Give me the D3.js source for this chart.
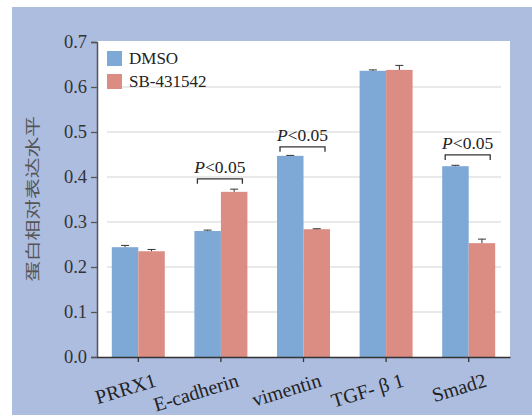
<!DOCTYPE html>
<html>
<head>
<meta charset="utf-8">
<script src="https://cdn.jsdelivr.net/npm/d3@7"></script>
<style>
  body { margin: 0; background: #fff; }
  svg { display: block; }
</style>
</head>
<body>
<svg id="chart" width="532" height="415"></svg>
<script>
// data
const categories = ["PRRX1", "E-cadherin", "vimentin", "TGF- β 1", "Smad2"];
const seriesNames = ["DMSO", "SB-431542"];
const dmsoValues = [0.244, 0.280, 0.447, 0.636, 0.424];
const dmsoErrors = [0.004, 0.002, 0.001, 0.002, 0.002];
const sbValues = [0.235, 0.367, 0.284, 0.638, 0.253];
const sbErrors = [0.004, 0.006, 0.001, 0.010, 0.009];
const yTicks = [0.0, 0.1, 0.2, 0.3, 0.4, 0.5, 0.6, 0.7];
// significance brackets: category and bracket height
const sigMarks = [
  { cat: "E-cadherin", y: 0.396, label: "P<0.05" },
  { cat: "vimentin", y: 0.467, label: "P<0.05" },
  { cat: "Smad2", y: 0.449, label: "P<0.05" }
];

const colors = { "DMSO": "#7ea8d5", "SB-431542": "#db8d83" };
const SERIF = "Liberation Serif";

const svg = d3.select("#chart");

// outer panel
svg.append("rect").attr("x", 12).attr("y", 7).attr("width", 520).attr("height", 408)
  .attr("fill", "#adbde0");

const plotL = 97, plotR = 510, plotT = 42, plotB = 357;

// white plotting area
svg.append("rect").attr("x", plotL).attr("y", plotT - 1).attr("width", plotR - plotL).attr("height", plotB - plotT + 1)
  .attr("fill", "#fff");

const y = d3.scaleLinear().domain([0, 0.7]).range([plotB, plotT]);
const x0 = d3.scaleBand().domain(categories).range([plotL, plotR]);
const groupWidth = 53;
const x1 = d3.scaleBand().domain(seriesNames).range([0, groupWidth]);
const groupStart = c => x0(c) + x0.bandwidth() / 2 - groupWidth / 2;

// grid
svg.append("g").selectAll("line")
  .data(yTicks.filter(t => t > 0 && t < 0.7))
  .join("line")
    .attr("x1", 107).attr("x2", 501)
    .attr("y1", d => y(d)).attr("y2", d => y(d))
    .attr("stroke", "#e2e2e2").attr("stroke-width", 1.5);

// rows for bars
const rows = [];
categories.forEach((c, i) => {
  rows.push({ cat: c, series: "DMSO", value: dmsoValues[i], err: dmsoErrors[i] });
  rows.push({ cat: c, series: "SB-431542", value: sbValues[i], err: sbErrors[i] });
});

svg.append("g").selectAll("rect")
  .data(rows)
  .join("rect")
    .attr("x", d => groupStart(d.cat) + x1(d.series))
    .attr("width", x1.bandwidth())
    .attr("y", d => y(d.value))
    .attr("height", d => y(0) - y(d.value))
    .attr("fill", d => colors[d.series]);

// error bars
const eb = svg.append("g").attr("stroke", "#333").attr("stroke-width", 1);
rows.forEach(d => {
  const cx = groupStart(d.cat) + x1(d.series) + x1.bandwidth() / 2;
  eb.append("line").attr("x1", cx).attr("x2", cx)
    .attr("y1", y(d.value)).attr("y2", y(d.value + d.err));
  eb.append("line").attr("x1", cx - 4).attr("x2", cx + 4)
    .attr("y1", y(d.value + d.err)).attr("y2", y(d.value + d.err));
});

// y axis
const yAxis = svg.append("g")
  .attr("transform", `translate(${plotL},0)`)
  .attr("font-family", SERIF)
  .call(d3.axisLeft(y).tickValues(yTicks).tickFormat(d3.format(".1f")).tickSize(6).tickPadding(4));
yAxis.attr("font-family", SERIF).attr("font-size", 18.5);
yAxis.select(".domain").attr("stroke", "#555").attr("stroke-width", 1.5);
yAxis.selectAll(".tick line").attr("stroke", "#555").attr("stroke-width", 1.3);
yAxis.selectAll(".tick text").attr("fill", "#333");

// x axis
const xAxis = svg.append("g")
  .attr("transform", `translate(0,${plotB})`)
  .call(d3.axisBottom(x0).tickSize(5).tickSizeOuter(0));
xAxis.attr("font-family", SERIF).attr("font-size", 20);
xAxis.select(".domain").attr("stroke", "#333").attr("stroke-width", 1.5);
xAxis.selectAll(".tick line").attr("stroke", "#333").attr("stroke-width", 1.3);
xAxis.selectAll(".tick text")
  .attr("fill", "#222")
  .attr("text-anchor", "end")
  .attr("dy", null).attr("y", 0)
  .attr("transform", "translate(19,29) rotate(-17)");

// significance brackets
const sig = svg.append("g").attr("font-family", SERIF).attr("font-size", 17.5);
sigMarks.forEach(s => {
  const cx = x0(s.cat) + x0.bandwidth() / 2;
  const yy = y(s.y);
  sig.append("path")
    .attr("d", `M${cx - 23.5},${yy + 5}V${yy}H${cx + 21.5}V${yy + 5}`)
    .attr("fill", "none").attr("stroke", "#333").attr("stroke-width", 1.3);
  const t = sig.append("text").attr("x", cx - 1).attr("y", yy - 6)
    .attr("text-anchor", "middle").attr("fill", "#222");
  t.append("tspan").attr("font-style", "italic").text(s.label[0]);
  t.append("tspan").text(s.label.slice(1));
});

// legend
const legend = svg.append("g").attr("font-family", SERIF).attr("font-size", 17);
seriesNames.forEach((n, i) => {
  legend.append("rect").attr("x", 107).attr("y", 51 + i * 23).attr("width", 15).attr("height", 15)
    .attr("fill", colors[n]);
  legend.append("text").attr("x", 129).attr("y", 64 + i * 23)
    .attr("fill", "#222").text(n);
});

// y axis title (glyphs stretched along the text direction as in the figure)
svg.append("text")
  .attr("transform", "translate(37.5,199) rotate(-90) scale(1.43,1)")
  .attr("text-anchor", "middle")
  .attr("font-family", "Noto Sans CJK SC")
  .attr("font-size", 14.5)
  .attr("fill", "#555")
  .text("蛋白相对表达水平");
</script>
</body>
</html>
